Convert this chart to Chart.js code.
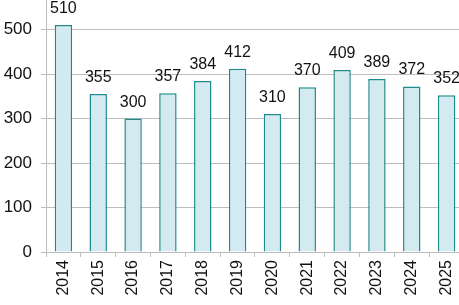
<!DOCTYPE html>
<html>
<head>
<meta charset="utf-8">
<script src="https://cdn.jsdelivr.net/npm/chart.js@4"></script>
<style>
  html, body { margin: 0; padding: 0; background: #fff; overflow: hidden; }
  #view { width: 459px; height: 305px; position: relative; overflow: hidden; }
  #wrap { width: 471px; height: 350px; position: absolute; left: 0; top: -45px; }
</style>
</head>
<body>
<div id="view"><div id="wrap"><canvas id="c"></canvas></div></div>
<script>
const years = ['2014', '2015', '2016', '2017', '2018', '2019', '2020', '2021', '2022', '2023', '2024', '2025'];
const counts = [510, 355, 300, 357, 384, 412, 310, 370, 409, 389, 372, 352];
const yTicks = [0, 100, 200, 300, 400, 500, 600];

const FILL = '#d3eaf0';
const EDGE = '#1d8a8e';
const GRID = '#bdbdbd';
const FONT = "'Liberation Sans', Arial, sans-serif";

// value labels above each bar
const valueLabels = {
  id: 'valueLabels',
  afterDatasetsDraw(chart) {
    const ctx = chart.ctx;
    const meta = chart.getDatasetMeta(0);
    ctx.save();
    ctx.font = '16px ' + FONT;
    ctx.fillStyle = '#111';
    ctx.textAlign = 'center';
    ctx.textBaseline = 'alphabetic';
    meta.data.forEach((bar, i) => {
      ctx.fillText(String(counts[i]), bar.x, bar.y - 12);
    });
    ctx.restore();
  }
};

new Chart(document.getElementById('c'), {
  type: 'bar',
  data: {
    labels: years,
    datasets: [{
      data: counts,
      backgroundColor: FILL,
      borderColor: EDGE,
      borderWidth: 1.5,
      categoryPercentage: 1,
      barPercentage: 0.5
    }]
  },
  options: {
    responsive: true,
    maintainAspectRatio: false,
    animation: false,
    layout: { padding: { top: 30, right: 7, left: 0, bottom: 0 } },
    plugins: { legend: { display: false }, tooltip: { enabled: false } },
    scales: {
      x: {
        offset: true,
        grid: { offset: true, drawOnChartArea: false, color: GRID, tickLength: 5 },
        border: { color: GRID },
        ticks: {
          minRotation: 90, maxRotation: 90, padding: 3,
          color: '#111', font: { family: FONT, size: 16 }
        },
        afterFit: s => { s.height = 53; }
      },
      y: {
        min: 0,
        max: 600,
        afterBuildTicks: s => { s.ticks = yTicks.map(v => ({ value: v })); },
        grid: { color: GRID, tickLength: 5 },
        border: { color: GRID },
        ticks: { padding: 9, color: '#111', font: { family: FONT, size: 17 } },
        afterFit: s => { s.width = 46; }
      }
    }
  },
  plugins: [valueLabels]
});
</script>
</body>
</html>
